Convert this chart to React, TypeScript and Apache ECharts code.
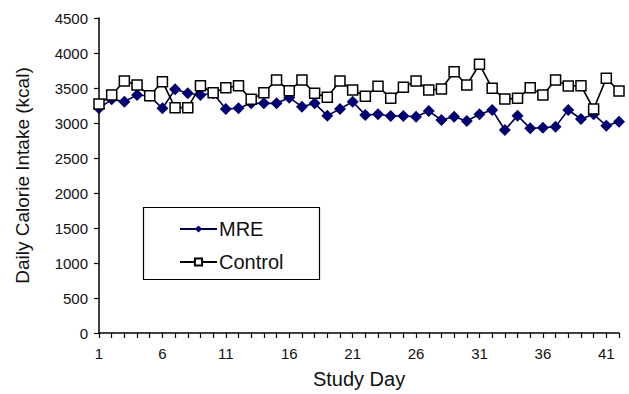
import React, { useEffect, useRef } from "react";
import * as echarts from "echarts";

const days: string[] = Array.from({ length: 42 }, (_, i) => String(i + 1));

const mreValues: number[] = [
  3210, 3338, 3305, 3400, 3385, 3210, 3481, 3424, 3400, 3425,
  3200, 3210, 3281, 3281, 3281, 3362, 3233, 3281, 3105, 3200,
  3305, 3114, 3124, 3100, 3100, 3090, 3171, 3043, 3090, 3029,
  3124, 3186, 2900, 3105, 2924, 2933, 2948, 3186, 3057, 3124,
  2962, 3019,
];

const controlValues: number[] = [
  3271, 3400, 3600, 3543, 3390, 3590, 3219, 3219, 3533, 3433,
  3505, 3533, 3338, 3433, 3614, 3462, 3614, 3424, 3367, 3600,
  3471, 3381, 3524, 3352, 3510, 3600, 3471, 3486, 3733, 3543,
  3838, 3495, 3343, 3352, 3505, 3400, 3614, 3529, 3533, 3200,
  3638, 3457,
];

const yTitle = "Daily Calorie Intake (kcal)";
const xTitle = "Study Day";

export default function App() {
  const ref = useRef<HTMLDivElement>(null);
  useEffect(() => {
    if (!ref.current) return;
    const chart = echarts.init(ref.current, undefined, { renderer: "svg" });
    const font = "Liberation Sans, Arial, sans-serif";
    chart.setOption({
      animation: false,
      backgroundColor: "#ffffff",
      textStyle: { fontFamily: font },
      grid: { left: 99, right: 10, top: 18, bottom: 61, containLabel: false },
      graphic: [
        {
          type: "rect",
          shape: { x: 143.5, y: 207.5, width: 176, height: 72 },
          style: { fill: "#ffffff", stroke: "#000000", lineWidth: 1.2 },
          z: 10,
        },
      ],
      legend: {
        orient: "vertical",
        left: 179,
        top: 219,
        itemGap: 13,
        itemWidth: 37,
        itemHeight: 9,
        padding: 0,
        z: 20,
        textStyle: { fontSize: 20, color: "#111", fontFamily: font, padding: [0, 0, 0, -3] },
        data: ["MRE", "Control"],
      },
      xAxis: {
        type: "category",
        data: days,
        boundaryGap: false,
        name: xTitle,
        nameLocation: "middle",
        nameGap: 36,
        nameTextStyle: { fontSize: 20, color: "#111", fontFamily: font },
        axisLine: { lineStyle: { color: "#000", width: 1.5 } },
        axisTick: { show: true, interval: 0, length: 5, lineStyle: { color: "#000", width: 1.2 } },
        axisLabel: { interval: 4, fontSize: 15, color: "#111", margin: 13, fontFamily: font },
        splitLine: { show: false },
      },
      yAxis: {
        type: "value",
        min: 0,
        max: 4500,
        interval: 500,
        name: yTitle,
        nameLocation: "middle",
        nameGap: 67,
        nameTextStyle: { fontSize: 19, color: "#111", fontFamily: font },
        axisLine: { show: true, lineStyle: { color: "#000", width: 1.5 } },
        axisTick: { show: true, length: 5, lineStyle: { color: "#000", width: 1.2 } },
        axisLabel: { fontSize: 15, color: "#111", margin: 11, fontFamily: font, formatter: (v: number) => String(v) },
        splitLine: { show: false },
      },
      series: [
        {
          name: "MRE",
          type: "line",
          data: mreValues,
          symbol: "diamond",
          symbolSize: 12,
          showAllSymbol: true,
          lineStyle: { color: "#000050", width: 1.6 },
          itemStyle: { color: "#000070", borderWidth: 0 },
          z: 3,
        },
        {
          name: "Control",
          type: "line",
          data: controlValues,
          symbol: "rect",
          symbolSize: 10,
          showAllSymbol: true,
          lineStyle: { color: "#000000", width: 1.6 },
          itemStyle: { color: "#ffffff", borderColor: "#000000", borderWidth: 1.5 },
          z: 4,
        },
      ],
    });
    return () => chart.dispose();
  }, []);
  return <div ref={ref} style={{ width: 629, height: 394, position: "fixed", left: 0, top: 0 }} />;
}
